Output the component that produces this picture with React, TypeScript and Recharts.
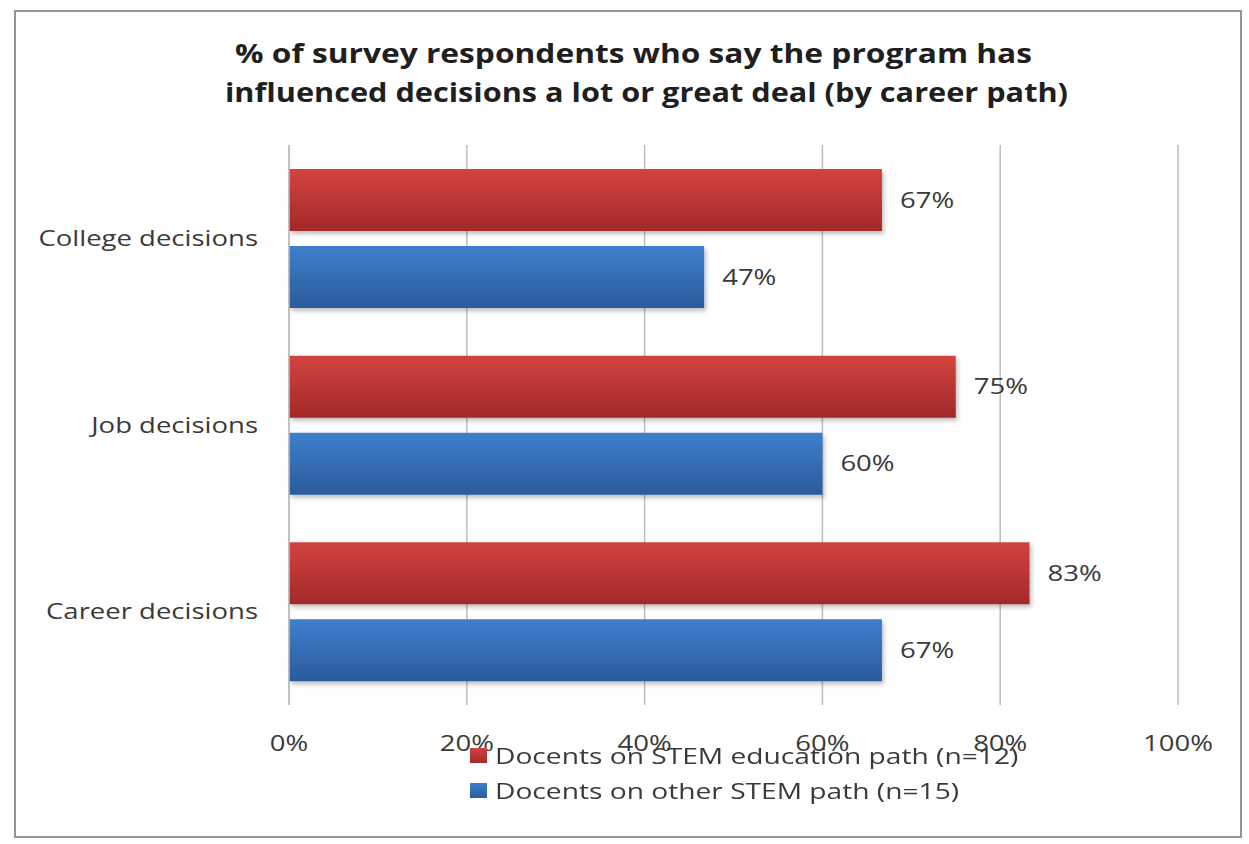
import React from 'react';
import { BarChart, Bar, XAxis, YAxis, CartesianGrid, LabelList, Legend } from 'recharts';

const categories = ['College decisions', 'Job decisions', 'Career decisions'];
const stemEducation = [66.7, 75, 83.3];
const otherStem = [46.7, 60, 66.7];
const xTicks = [0, 20, 40, 60, 80, 100];
const seriesNames = ['Docents on STEM education path (n=12)', 'Docents on other STEM path (n=15)'];
const titleLines = ['% of survey respondents who say the program has', 'influenced decisions a lot or great deal (by career path)'];

const data = categories.map((c, i) => ({ name: c, edu: stemEducation[i], other: otherStem[i] }));

const FONT = '"Open Sans", sans-serif';
const SX = 1.25;
const TEXT = '#3a3a3a';

const YTick = (props: any) => {
  const { x, y, payload } = props;
  return (
    <g transform={`translate(${x},${y})`}>
      <text transform={`scale(${SX},1)`} textAnchor="end" dy="0.355em" fontSize={22} fontFamily={FONT} fill={TEXT}>
        {payload.value}
      </text>
    </g>
  );
};

const XTick = (props: any) => {
  const { x, y, payload } = props;
  return (
    <g transform={`translate(${x},${y})`}>
      <text transform={`scale(${SX},1)`} textAnchor="middle" dy="0.355em" fontSize={22} fontFamily={FONT} fill={TEXT}>
        {`${payload.value}%`}
      </text>
    </g>
  );
};

const ValueLabel = (props: any) => {
  const { x, y, width, height, value } = props;
  const tx = Number(x) + Number(width) + 18;
  const ty = Number(y) + Number(height) / 2;
  return (
    <g transform={`translate(${tx},${ty})`}>
      <text transform={`scale(${SX},1)`} textAnchor="start" dy="0.355em" fontSize={22} fontFamily={FONT} fill={TEXT}>
        {`${Math.round(Number(value))}%`}
      </text>
    </g>
  );
};

const LegendContent = () => (
  <div style={{ fontFamily: FONT, fontSize: 22, color: TEXT }}>
    {seriesNames.map((n, i) => (
      <div key={n} style={{ display: 'flex', alignItems: 'center', height: 35 }}>
        <div style={{ width: 17, height: 15, background: `linear-gradient(${i === 0 ? '#d0423e, #a52b29' : '#3d7dcb, #2b5c9e'})`, marginRight: 8, flex: 'none' }} />
        <div style={{ transform: `scaleX(1.28)`, transformOrigin: 'left center', whiteSpace: 'nowrap', lineHeight: '35px' }}>{n}</div>
      </div>
    ))}
  </div>
);

export default function App() {
  return (
    <div style={{ position: 'absolute', left: 0, top: 0, width: 1249, height: 844, background: '#fff' }}>
      <div style={{ position: 'absolute', left: 14, top: 10, width: 1224, height: 824, border: '2px solid #959595' }} />
      <svg width={1249} height={844} style={{ position: 'absolute', left: 0, top: 0 }}>
        <text x={235} y={63} fontSize={27} fontWeight={700} fontFamily={FONT} fill="#1f1f1f" textLength={797} lengthAdjust="spacingAndGlyphs">
          {titleLines[0]}
        </text>
        <text x={225} y={102} fontSize={27} fontWeight={700} fontFamily={FONT} fill="#1f1f1f" textLength={843} lengthAdjust="spacingAndGlyphs">
          {titleLines[1]}
        </text>
      </svg>
      <div style={{ position: 'absolute', left: 0, top: 0 }}>
        <BarChart
          width={1249}
          height={844}
          data={data}
          layout="vertical"
          margin={{ top: 145, right: 71, bottom: 99, left: 29 }}
          barCategoryGap={24}
          barGap={15}
        >
          <defs>
            <linearGradient id="gradRed" x1="0" y1="0" x2="0" y2="1">
              <stop offset="0%" stopColor="#d3433f" />
              <stop offset="100%" stopColor="#a2292a" />
            </linearGradient>
            <linearGradient id="gradBlue" x1="0" y1="0" x2="0" y2="1">
              <stop offset="0%" stopColor="#3f7fcd" />
              <stop offset="100%" stopColor="#2a5b9c" />
            </linearGradient>
            <filter id="shadow" x="-5%" y="-20%" width="110%" height="150%">
              <feDropShadow dx="2" dy="3" stdDeviation="2" floodColor="#000" floodOpacity="0.25" />
            </filter>
          </defs>
          <CartesianGrid horizontal={false} stroke="#bdbdbd" strokeWidth={1.5} />
          <XAxis
            type="number"
            domain={[0, 100]}
            ticks={xTicks}
            axisLine={false}
            tickLine={false}
            tickSize={0}
            tickMargin={38}
            height={40}
            tick={<XTick />}
            interval={0}
          />
          <YAxis
            type="category"
            dataKey="name"
            width={260}
            axisLine={{ stroke: '#bdbdbd', strokeWidth: 1.5 }}
            tickLine={false}
            tickSize={0}
            tickMargin={31}
            tick={<YTick />}
          />
          <Legend
            layout="vertical"
            align="center"
            verticalAlign="middle"
            content={<LegendContent />}
            wrapperStyle={{ left: 470, top: 738, width: 700, height: 72 }}
          />
          <Bar dataKey="edu" name={seriesNames[0]} fill="url(#gradRed)" filter="url(#shadow)" isAnimationActive={false}>
            <LabelList dataKey="edu" content={<ValueLabel />} />
          </Bar>
          <Bar dataKey="other" name={seriesNames[1]} fill="url(#gradBlue)" filter="url(#shadow)" isAnimationActive={false}>
            <LabelList dataKey="other" content={<ValueLabel />} />
          </Bar>
        </BarChart>
      </div>
    </div>
  );
}
